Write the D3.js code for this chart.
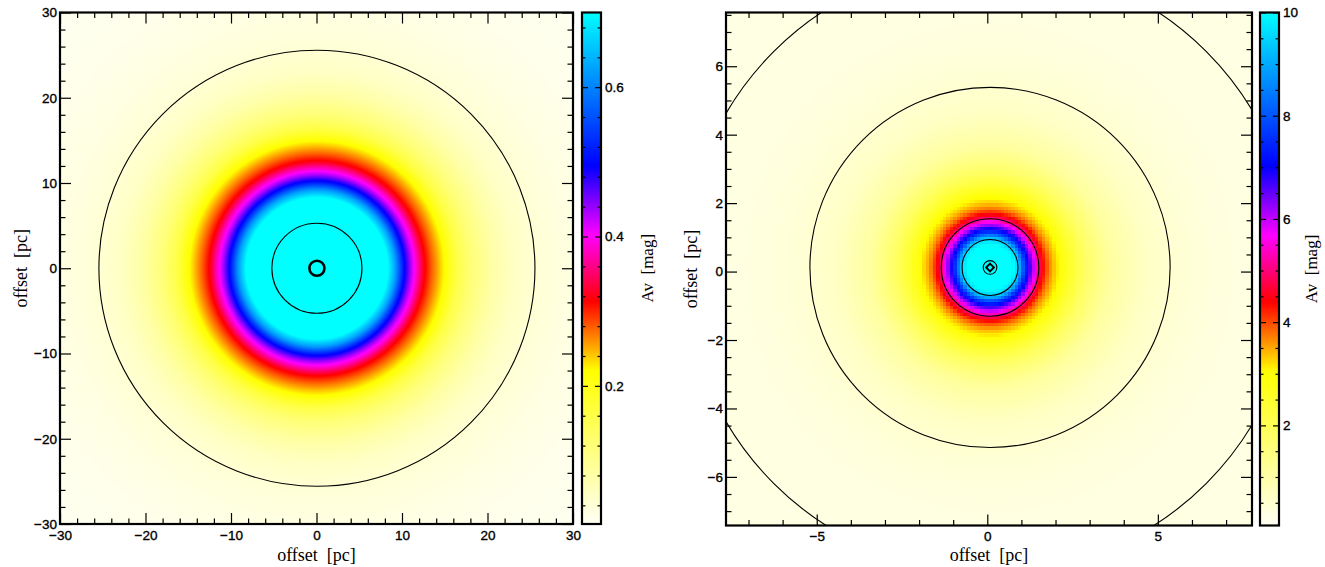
<!DOCTYPE html>
<html><head><meta charset="utf-8">
<script src="https://cdn.jsdelivr.net/npm/d3@7"></script>
<style>body{margin:0;background:#fff}svg{display:block}</style>
</head><body>
<svg id="c" width="1325" height="567"></svg>
<script>
// ---------------- data ----------------
// left map: radial Av profile (pc -> mag)
const leftRadii = [0, 6.8, 8.3, 9.2, 10.1, 11.0, 11.7, 12.5, 13.4, 14.4, 15.2, 16.4, 18, 20.5, 23, 26, 30, 36, 43];
const leftAv    = [0.9, 0.8, 0.70, 0.62, 0.51, 0.43, 0.38, 0.32, 0.28, 0.24, 0.21, 0.16, 0.12, 0.08, 0.055, 0.04, 0.03, 0.022, 0.018];
const leftCenter = [0.05, 0.0];
const leftCircles = [0.88, 5.27, 25.5];
const leftBoldCircle = [true, false, false];
// right map: radial Av profile (pc -> mag), 0.1 pc cells
const rightRadii = [0, 0.6, 0.8, 0.9, 1.0, 1.12, 1.22, 1.33, 1.45, 1.55, 1.7, 1.85, 2.05, 2.4, 2.8, 3.5, 4.5, 5.5, 7, 11];
const rightAv    = [10.5, 10.2, 9.6, 8.8, 7.8, 7.0, 6.3, 5.6, 4.9, 4.4, 3.8, 3.4, 3.0, 2.4, 1.8, 1.1, 0.65, 0.45, 0.3, 0.25];
const rightCenter = [0.08, 0.12];
const rightCell = 0.1;
const rightCircles = [0.2, 0.82, 1.43, 5.28, 8.96];
// colour map (fraction of colour-bar range -> colour)
const cmapStops  = [0, 0.30, 0.435, 0.565, 0.70, 1];
const cmapColors = ["#fffff4", "#ffff00", "#ff0000", "#ff00ff", "#0000ff", "#00ffff"];
// ranges and ticks
const leftDomain = [-30, 30];
const leftMajor = [-30, -20, -10, 0, 10, 20, 30];
const leftMinor = d3.range(-30, 30.01, 2);
const leftCbarRange = [0.015, 0.70];
const leftCbarMajor = [0.2, 0.4, 0.6];
const leftCbarMinor = d3.range(0.04, 0.701, 0.04);
const rightXDomain = [-7.66, 7.76];
const rightYDomain = [-7.42, 7.57];
const rightXMajor = [-5, 0, 5];
const rightXMinor = d3.range(-7, 7.01, 1);
const rightYMajor = [-6, -4, -2, 0, 2, 4, 6];
const rightYMinor = d3.range(-7, 7.51, 0.5);
const rightCbarRange = [0.06, 10];
const rightCbarMajor = [2, 4, 6, 8, 10];
const rightCbarMinor = d3.range(0.5, 10.01, 0.5);
const axisTitle = "offset  [pc]";
const cbarTitle = "Av  [mag]";

// ---------------- drawing ----------------
const svg = d3.select("#c");
const fmtMinus = s => String(s).replace("-", "\u2212");
const cmap = d3.scaleLinear().domain(cmapStops).range(cmapColors).clamp(true);
const TICKFONT = "Liberation Sans, Arial, sans-serif";
const TITLEFONT = "Liberation Serif, serif";

function heat(x, y, w, h, fn) {
  const cv = document.createElement("canvas");
  cv.width = w; cv.height = h;
  const ctx = cv.getContext("2d");
  const img = ctx.createImageData(w, h);
  for (let j = 0; j < h; j++) for (let i = 0; i < w; i++) {
    const c = d3.rgb(fn(x + i + 0.5, y + j + 0.5));
    const k = 4 * (j * w + i);
    img.data[k] = c.r; img.data[k+1] = c.g; img.data[k+2] = c.b; img.data[k+3] = 255;
  }
  ctx.putImageData(img, 0, 0);
  svg.append("image").attr("x", x).attr("y", y).attr("width", w).attr("height", h)
     .attr("href", cv.toDataURL());
}

function styleText(sel) {
  sel.attr("font-family", TICKFONT).attr("font-size", 13.5).attr("fill", "#000")
     .attr("stroke", "#000").attr("stroke-width", 0.35);
}

function panel(o) {
  const xs = d3.scaleLinear(o.xDomain, o.xRange);
  const ys = d3.scaleLinear(o.yDomain, o.yRange);
  const x0 = o.xRange[0], x1 = o.xRange[1], y0 = o.yRange[1], y1 = o.yRange[0];
  const prof = d3.scaleLinear().domain(o.radii).range(o.av).clamp(true);
  const cnorm = d3.scaleLinear().domain(o.cRange).range([0, 1]);
  heat(Math.floor(x0), Math.floor(y0), Math.ceil(x1 - x0) + 1, Math.ceil(y1 - y0) + 1, (px, py) => {
    let dx = xs.invert(px), dy = ys.invert(py);
    if (o.cell) { dx = (Math.floor(dx / o.cell) + 0.5) * o.cell; dy = (Math.floor(dy / o.cell) + 0.5) * o.cell; }
    const r = Math.hypot(dx - o.center[0], dy - o.center[1]);
    return cmap(cnorm(prof(r)));
  });
  const cid = "clip" + o.id;
  svg.append("clipPath").attr("id", cid).append("rect")
    .attr("x", x0).attr("y", y0).attr("width", x1 - x0).attr("height", y1 - y0);
  const g = svg.append("g").attr("clip-path", `url(#${cid})`);
  o.circles.forEach((rad, i) => {
    g.append("circle").attr("cx", xs(o.center[0])).attr("cy", ys(o.center[1]))
      .attr("r", xs(rad) - xs(0)).attr("fill", "none").attr("stroke", "#000")
      .attr("stroke-width", o.bold && o.bold[i] ? 2.6 : 1.1);
  });
  if (o.marker) {
    g.append("path").attr("d", d3.symbol(d3.symbolSquare, 30)())
      .attr("transform", `translate(${xs(o.center[0])},${ys(o.center[1])}) rotate(45)`)
      .attr("fill", "none").attr("stroke", "#000").attr("stroke-width", 2);
  }
  // axes
  const ax = (gen, scale, vals, len, lab, tr, pad) => {
    const a = svg.append("g").attr("transform", tr)
      .call(gen(scale).tickValues(vals).tickSize(-len).tickPadding(pad || 4)
        .tickFormat(lab ? (d => fmtMinus(d)) : () => ""));
    a.select(".domain").remove();
    a.selectAll("line").attr("stroke", "#000").attr("stroke-width", 1.2);
    styleText(a.selectAll("text"));
    return a;
  };
  const minorOf = (mn, mj) => mn.filter(v => !mj.some(m => Math.abs(m - v) < 1e-6));
  ax(d3.axisBottom, xs, o.xMajor, 11, true, `translate(0,${y1})`, 6);
  ax(d3.axisBottom, xs, minorOf(o.xMinor, o.xMajor), 5.5, false, `translate(0,${y1})`);
  ax(d3.axisTop, xs, o.xMajor, 11, false, `translate(0,${y0})`);
  ax(d3.axisTop, xs, minorOf(o.xMinor, o.xMajor), 5.5, false, `translate(0,${y0})`);
  ax(d3.axisLeft, ys, o.yMajor, 11, true, `translate(${x0},0)`, 3);
  ax(d3.axisLeft, ys, minorOf(o.yMinor, o.yMajor), 5.5, false, `translate(${x0},0)`);
  ax(d3.axisRight, ys, o.yMajor, 11, false, `translate(${x1},0)`);
  ax(d3.axisRight, ys, minorOf(o.yMinor, o.yMajor), 5.5, false, `translate(${x1},0)`);
  svg.append("rect").attr("x", x0).attr("y", y0).attr("width", x1 - x0).attr("height", y1 - y0)
    .attr("fill", "none").attr("stroke", "#000").attr("stroke-width", 2.2);
  svg.append("text").attr("x", (x0 + x1) / 2).attr("y", 561).attr("text-anchor", "middle")
    .attr("font-family", TITLEFONT).attr("font-size", 18).attr("xml:space", "preserve").text(axisTitle);
  svg.append("text").attr("transform", `translate(${o.yTitleX},${(y0 + y1) / 2}) rotate(-90)`)
    .attr("text-anchor", "middle").attr("font-family", TITLEFONT).attr("font-size", 18)
    .attr("xml:space", "preserve").text(axisTitle);
  // colour bar
  const cb = o.cbar;
  const cy = d3.scaleLinear(o.cRange, [y1, y0]);
  heat(cb[0], Math.floor(y0), cb[1] - cb[0], Math.ceil(y1 - y0) + 1, (px, py) => cmap(cnorm(cy.invert(py))));
  const cax = (gen, vals, len, lab, tr) => {
    const a = svg.append("g").attr("transform", tr)
      .call(gen(cy).tickValues(vals).tickSize(-len).tickPadding(4).tickFormat(lab ? (d => String(d)) : () => ""));
    a.select(".domain").remove();
    a.selectAll("line").attr("stroke", "#000").attr("stroke-width", 1.2);
    styleText(a.selectAll("text"));
  };
  const cminor = minorOf(o.cMinor, o.cMajor);
  cax(d3.axisRight, o.cMajor, 6, true, `translate(${cb[1]},0)`);
  cax(d3.axisRight, cminor, 3.5, false, `translate(${cb[1]},0)`);
  cax(d3.axisLeft, o.cMajor, 6, false, `translate(${cb[0]},0)`);
  cax(d3.axisLeft, cminor, 3.5, false, `translate(${cb[0]},0)`);
  svg.append("rect").attr("x", cb[0]).attr("y", y0).attr("width", cb[1] - cb[0]).attr("height", y1 - y0)
    .attr("fill", "none").attr("stroke", "#000").attr("stroke-width", 2.2);
  svg.append("text").attr("transform", `translate(${o.cTitleX},${(y0 + y1) / 2}) rotate(-90)`)
    .attr("text-anchor", "middle").attr("font-family", TITLEFONT).attr("font-size", 17)
    .attr("xml:space", "preserve").text(cbarTitle);
}

panel({id: "L", xDomain: leftDomain, yDomain: leftDomain, xRange: [60, 573], yRange: [524, 12.5],
  radii: leftRadii, av: leftAv, center: leftCenter, circles: leftCircles, bold: leftBoldCircle,
  cRange: leftCbarRange, cMajor: leftCbarMajor, cMinor: leftCbarMinor,
  xMajor: leftMajor, xMinor: leftMinor, yMajor: leftMajor, yMinor: leftMinor,
  cbar: [582, 601], yTitleX: 27, cTitleX: 653});
panel({id: "R", xDomain: rightXDomain, yDomain: rightYDomain, xRange: [726, 1252], yRange: [525.5, 12.5],
  radii: rightRadii, av: rightAv, center: rightCenter, circles: rightCircles, marker: true, cell: rightCell,
  cRange: rightCbarRange, cMajor: rightCbarMajor, cMinor: rightCbarMinor,
  xMajor: rightXMajor, xMinor: rightXMinor, yMajor: rightYMajor, yMinor: rightYMinor,
  cbar: [1260, 1279], yTitleX: 697, cTitleX: 1317});
</script>
</body></html>
